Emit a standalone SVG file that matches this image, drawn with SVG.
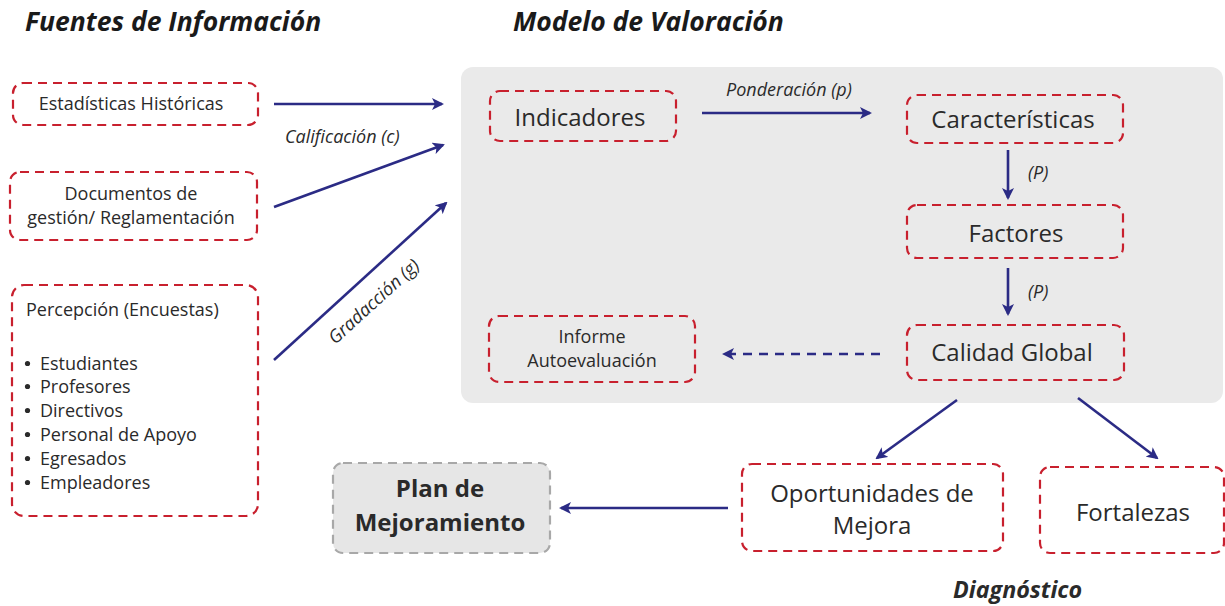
<svg xmlns="http://www.w3.org/2000/svg" width="1225" height="606" viewBox="0 0 1225 606">
<style>
text{font-family:"Open Sans","Noto Sans","Liberation Sans",sans-serif;fill:#2a2a2a}
.box{fill:none;stroke:#c8202e;stroke-width:2.2;stroke-dasharray:9 6}
.title{font-weight:bold;font-style:italic;font-size:26.5px;fill:#1a1a1a}
.lbl{font-style:italic;font-size:18px}
.s{font-size:18px}
.m{font-size:24px}
.bul{fill:#2a2a2a}
.arr{stroke:#2b2b85;stroke-width:2.6;fill:none;marker-end:url(#ah)}
</style>
<defs>
<marker id="ah" viewBox="0 0 12 12" refX="10" refY="6" markerWidth="12" markerHeight="12" markerUnits="userSpaceOnUse" orient="auto">
<path d="M0,0 L12,6 L0,12 L3,6 Z" fill="#2b2b85"/>
</marker>
</defs>
<rect x="0" y="0" width="1225" height="606" fill="#ffffff"/>
<text class="title" x="25" y="31">Fuentes de Información</text>
<text class="title" x="513" y="31">Modelo de Valoración</text>
<rect id="panel" x="461" y="67" width="762" height="336" rx="12" fill="#eaeaea"/>

<g id="estadisticas">
<rect class="box" x="13" y="83" width="245" height="42" rx="10"/>
<text class="s" x="131" y="110" text-anchor="middle">Estadísticas Históricas</text>
</g>
<g id="documentos">
<rect class="box" x="10" y="172" width="247" height="68" rx="10"/>
<text class="s" x="131" y="200" text-anchor="middle">Documentos de</text>
<text class="s" x="131" y="224" text-anchor="middle">gestión/ Reglamentación</text>
</g>
<g id="percepcion">
<rect class="box" x="12" y="285" width="246" height="231" rx="12"/>
<text class="s" x="26" y="316">Percepción (Encuestas)</text>
<g class="bul">
<circle cx="27.5" cy="363.5" r="2.6"/>
<circle cx="27.5" cy="386.5" r="2.6"/>
<circle cx="27.5" cy="410.5" r="2.6"/>
<circle cx="27.5" cy="434.5" r="2.6"/>
<circle cx="27.5" cy="458.5" r="2.6"/>
<circle cx="27.5" cy="482.5" r="2.6"/>
</g>
<g class="s">
<text x="40" y="370">Estudiantes</text>
<text x="40" y="393">Profesores</text>
<text x="40" y="417">Directivos</text>
<text x="40" y="441">Personal de Apoyo</text>
<text x="40" y="465">Egresados</text>
<text x="40" y="489">Empleadores</text>
</g>
</g>
<g id="indicadores">
<rect class="box" x="490" y="91" width="186" height="50" rx="10"/>
<text class="m" x="580" y="126" text-anchor="middle">Indicadores</text>
</g>
<g id="caracteristicas">
<rect class="box" x="907" y="95" width="216" height="48" rx="10"/>
<text class="m" x="1013" y="128" text-anchor="middle">Características</text>
</g>
<g id="factores">
<rect class="box" x="907" y="205" width="216" height="53" rx="10"/>
<text class="m" x="1016" y="242" text-anchor="middle">Factores</text>
</g>
<g id="calidad">
<rect class="box" x="907" y="325" width="217" height="55" rx="10"/>
<text class="m" x="1012" y="361" text-anchor="middle">Calidad Global</text>
</g>
<g id="informe">
<rect class="box" x="489" y="316" width="206" height="66" rx="10"/>
<text class="s" x="592" y="343" text-anchor="middle">Informe</text>
<text class="s" x="592" y="367" text-anchor="middle">Autoevaluación</text>
</g>
<g id="plan">
<rect x="333" y="463" width="217" height="90" rx="10" fill="#e6e6e6" stroke="#a8a8a8" stroke-width="2.2" stroke-dasharray="9 6"/>
<text x="440" y="497" font-size="24" font-weight="bold" text-anchor="middle" fill="#1a1a1a">Plan de</text>
<text x="440" y="531" font-size="24" font-weight="bold" text-anchor="middle" fill="#1a1a1a">Mejoramiento</text>
</g>
<g id="oportunidades">
<rect class="box" x="742" y="464" width="261" height="87" rx="10"/>
<text class="m" x="872" y="502" text-anchor="middle">Oportunidades de</text>
<text class="m" x="872" y="534" text-anchor="middle">Mejora</text>
</g>
<g id="fortalezas">
<rect class="box" x="1040" y="467" width="184" height="86" rx="10"/>
<text class="m" x="1133" y="521" text-anchor="middle">Fortalezas</text>
</g>
<text x="953" y="598" font-size="23.3" font-weight="bold" font-style="italic" fill="#1a1a1a">Diagnóstico</text>

<g id="connectors">
<line class="arr" x1="274" y1="104" x2="442" y2="104"/>
<line class="arr" x1="274" y1="207" x2="443" y2="145"/>
<line class="arr" x1="274" y1="360" x2="446" y2="203"/>
<line class="arr" x1="702" y1="113" x2="870" y2="113"/>
<line class="arr" x1="1008" y1="150" x2="1008" y2="198"/>
<line class="arr" x1="1008" y1="268" x2="1008" y2="314"/>
<line class="arr" x1="880" y1="354" x2="724" y2="354" stroke-dasharray="9 7"/>
<line class="arr" x1="957" y1="400" x2="877" y2="458"/>
<line class="arr" x1="1078" y1="398" x2="1157" y2="458"/>
<line class="arr" x1="728" y1="508" x2="561" y2="508"/>
<text class="lbl" x="285" y="143">Calificación (c)</text>
<text class="lbl" x="726" y="96">Ponderación (p)</text>
<text class="lbl" x="1028" y="179" font-size="16">(P)</text>
<text class="lbl" x="1028" y="298" font-size="16">(P)</text>
<text class="lbl" x="0" y="0" text-anchor="middle" transform="translate(378,306) rotate(-42.4)">Gradacción (g)</text>
</g>
</svg>
